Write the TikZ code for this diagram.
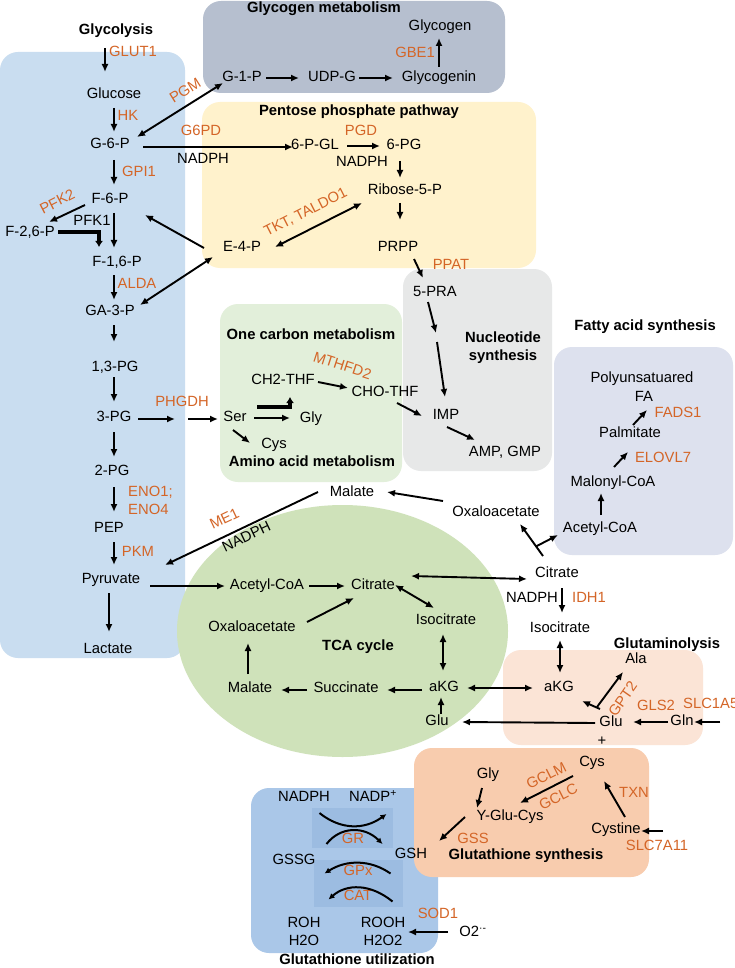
\documentclass[tikz,border=0pt]{standalone}
\usepackage{fontspec}
\setmainfont{Liberation Sans}
\usetikzlibrary{arrows.meta,calc}
\definecolor{enzc}{RGB}{212,101,39}
\definecolor{glycc}{RGB}{201,221,240}
\definecolor{glygc}{RGB}{182,191,207}
\definecolor{pppc}{RGB}{255,242,204}
\definecolor{onecc}{RGB}{226,239,218}
\definecolor{nucc}{RGB}{231,232,232}
\definecolor{fac}{RGB}{221,225,238}
\definecolor{tcac}{RGB}{207,226,186}
\definecolor{glutc}{RGB}{251,228,214}
\definecolor{gssc}{RGB}{248,204,174}
\definecolor{gsuc}{RGB}{170,199,232}
\definecolor{innc}{RGB}{156,188,225}
\newcommand\fs{\fontsize{14.8}{18}\selectfont}
\begin{document}
\begin{tikzpicture}[x=1pt,y=-1pt,
 met/.style={font=\fs, inner sep=1pt, text height=10pt, text depth=3pt},
 enz/.style={met, text=enzc},
 ttl/.style={font=\fs\bfseries, inner sep=1pt, text height=10pt, text depth=3pt},
 ml/.style={font=\fs, inner sep=1pt, align=center},
 arr/.style={-{Latex[length=8pt,width=7pt]}, line width=1.9pt},
 darr/.style={{Latex[length=8pt,width=7pt]}-{Latex[length=8pt,width=7pt]}, line width=1.9pt},
 thk/.style={-{Latex[length=6pt,width=8pt]}, line width=3.5pt},
 cur/.style={-{Latex[length=6pt,width=6pt]}, line width=2pt},
 reg/.style={rounded corners=18pt}]
\useasboundingbox (0,0) rectangle (735,968);
\fill[white] (0,0) rectangle (735,968);
% regions
\fill[glycc, reg] (0,52) rectangle (185,658);
\fill[glygc, reg] (203,1) rectangle (505,93);
\fill[pppc, reg] (202,102) rectangle (536,268);
\fill[onecc, reg] (220,304) rectangle (402,482);
\fill[nucc, reg] (403,269) rectangle (552,471);
\fill[fac, reg] (554,347) rectangle (733,555);
\fill[tcac] (342.5,631) ellipse [x radius=165.5pt, y radius=126pt];
\fill[glutc, reg] (503,650) rectangle (703,745);
\fill[gsuc, reg] (251,788) rectangle (438,953);
\fill[gssc, reg] (414,748) rectangle (649,877);
\node[fill=innc, minimum width=81pt, minimum height=40pt, inner sep=0pt] (grbox) at (352.5,828) {};
\node[fill=innc, minimum width=89pt, minimum height=47pt, inner sep=0pt] (gpxbox) at (358.5,883.5) {};
% titles
\node[ttl] (tglyc) at (116,31) {Glycolysis};
\node[ttl] (tglyg) at (324,9) {Glycogen metabolism};
\node[ttl] (tppp) at (359,112) {Pentose phosphate pathway};
\node[ttl] (tonec) at (311,336) {One carbon metabolism};
\node[ttl] (tamino) at (312,463) {Amino acid metabolism};
\node[ttl] (tnuca) at (503,339) {Nucleotide};
\node[ttl] (tnucb) at (503,357) {synthesis};
\node[ttl] (tfa) at (645,327) {Fatty acid synthesis};
\node[ttl] (ttca) at (358,647) {TCA cycle};
\node[ttl] (tglut) at (667,645) {Glutaminolysis};
\node[ttl] (tgss) at (526,856) {Glutathione synthesis};
\node[ttl] (tgsu) at (357,961) {Glutathione utilization};
% glycolysis metabolites
\node[met] (gluc) at (114,95) {Glucose};
\node[met] (g6p) at (110,145) {G-6-P};
\node[met] (f6p) at (110,200) {F-6-P};
\node[met] (f26p) at (30,233) {F-2,6-P};
\node[met] (pfka) at (92,222) {PFK1};
\node[met] (f16p) at (117,263) {F-1,6-P};
\node[met] (ga3p) at (110,312) {GA-3-P};
\node[met] (pg13) at (115,368) {1,3-PG};
\node[met] (pg3) at (114,418) {3-PG};
\node[met] (pg2) at (112,472) {2-PG};
\node[met] (pep) at (109,529) {PEP};
\node[met] (pyr) at (111,580) {Pyruvate};
\node[met] (lac) at (108,650) {Lactate};
% glycogen
\node[met] (g1p) at (242,78) {G-1-P};
\node[met] (udpg) at (332,78) {UDP-G};
\node[met] (glycogenin) at (439,78) {Glycogenin};
\node[met] (glycogen) at (440,27) {Glycogen};
% PPP
\node[met] (pgl) at (315,146) {6-P-GL};
\node[met] (pg6) at (404,146) {6-PG};
\node[met] (nadphb) at (362,163) {NADPH};
\node[met] (nadpha) at (203,160) {NADPH};
\node[met] (r5p) at (405,191) {Ribose-5-P};
\node[met] (prpp) at (398,248) {PRPP};
\node[met] (e4p) at (242,248) {E-4-P};
% nucleotide
\node[met] (pra) at (435,293) {5-PRA};
\node[met] (imp) at (446,416) {IMP};
\node[met] (amp) at (505,453) {AMP, GMP};
% one carbon
\node[met] (ch2) at (283,381) {CH2-THF};
\node[met] (cho) at (385,393) {CHO-THF};
\node[met] (ser) at (235,418) {Ser};
\node[met] (gly) at (311,419) {Gly};
\node[met] (cys) at (274,445) {Cys};
% fatty acid
\node[met] (acoaf) at (600,529) {Acetyl-CoA};
\node[met] (malcoa) at (613,483) {Malonyl-CoA};
\node[met] (palm) at (630,434) {Palmitate};
\node[met] (pufa) at (642,379) {Polyunsatuared};
\node[met] (fa) at (644,398) {FA};
% middle
\node[met] (malt) at (352,493) {Malate};
\node[met] (oaat) at (496,513) {Oxaloacetate};
\node[met] (citr) at (557,574) {Citrate};
\node[met] (nadphc) at (532,599) {NADPH};
\node[met] (isocitr) at (560,629) {Isocitrate};
\node[met] (akgr) at (559,688) {aKG};
\node[met] (ala) at (636,660) {Ala};
\node[met] (glur) at (611,723) {Glu};
\node[met] (gln) at (682,722) {Gln};
\node[met] (plus) at (602,742) {+};
% TCA
\node[met] (acoa) at (267,586) {Acetyl-CoA};
\node[met] (cit) at (373,586) {Citrate};
\node[met] (isocit) at (446,621) {Isocitrate};
\node[met] (oaa) at (252,628) {Oxaloacetate};
\node[met] (akg) at (444,688) {aKG};
\node[met] (succ) at (346,689) {Succinate};
\node[met] (mal) at (250,689) {Malate};
\node[met] (glu) at (437,722) {Glu};
% glutathione synthesis
\node[met] (cyss) at (592,763) {Cys};
\node[met] (glys) at (488,775) {Gly};
\node[met] (ygc) at (510,817) {Y-Glu-Cys};
\node[met] (gsh) at (411,855) {GSH};
\node[met] (cystine) at (616,830) {Cystine};
% glutathione utilization
\node[met] (nadphd) at (304,798) {NADPH};
\node[met] (nadp) at (373,798) {NADP\textsuperscript{+}};
\node[met] (gssg) at (294,861) {GSSG};
\node[ml] (roh) at (304,931) {ROH\\H2O};
\node[ml] (rooh) at (383,931) {ROOH\\H2O2};
\node[met] (o2) at (473,933) {O2\textsuperscript{·-}};
% enzymes
\node[enz] (eglut) at (133,53) {GLUT1};
\node[enz] (ehk) at (128,117) {HK};
\node[enz] (egpi) at (139,173) {GPI1};
\node[enz, rotate=27] (epfk) at (58,203) {PFK2};
\node[enz] (ealda) at (137,285) {ALDA};
\node[enz, rotate=32] (epgm) at (186,92) {PGM};
\node[enz] (eg6pd) at (201,132) {G6PD};
\node[enz] (epgd) at (361,132) {PGD};
\node[enz] (egbe) at (415,54) {GBE1};
\node[enz, rotate=27] (etkt) at (306,213) {TKT, TALDO1};
\node[enz] (eppat) at (451,266) {PPAT};
\node[enz, rotate=-18] (emth) at (342,367) {MTHFD2};
\node[enz] (ephg) at (182,403) {PHGDH};
\node[ml, text=enzc, align=left, anchor=west] (eeno) at (127,500) {ENO1;\\ENO4};
\node[enz] (epkm) at (138,553) {PKM};
\node[enz, rotate=25.5] (eme) at (225,520) {ME1};
\node[met, rotate=25.5] (nadphme) at (247,538) {NADPH};
\node[enz] (eelo) at (663,459) {ELOVL7};
\node[enz] (efads) at (678,414) {FADS1};
\node[enz] (eidh) at (589,599) {IDH1};
\node[enz, rotate=55] (egpt) at (624,700) {GPT2};
\node[enz] (egls) at (656,707) {GLS2};
\node[enz, anchor=west] (eslc) at (682,705) {SLC1A5};
\node[enz, rotate=27] (egclm) at (547,777) {GCLM};
\node[enz, rotate=27] (egclc) at (559,798) {GCLC};
\node[enz] (etxn) at (634,794) {TXN};
\node[enz] (egss) at (473,840) {GSS};
\node[enz] (eslc7) at (657,847) {SLC7A11};
\node[enz] (egr) at (353,840) {GR};
\node[enz] (egpx) at (358,872) {GPx};
\node[enz] (ecat) at (358,897) {CAT};
\node[enz] (esod) at (438,915) {SOD1};
% connectors: glycolysis
\coordinate (glutin) at (105,48);
\draw[arr] (glutin) -- ([shift={(-9,-23)}]gluc.center);
\draw[arr] ([shift={(0,13)}]gluc.center) -- ([shift={(4,-13)}]g6p.center);
\draw[arr] ([shift={(4,15)}]g6p.center) -- ([shift={(4,-15)}]f6p.center);
\draw[arr] ([shift={(-25,5)}]f6p.center) -- ([shift={(19,-11)}]f26p.center);
\draw[thk] ([shift={(28,-1)}]f26p.center) -| ([shift={(-18,-16)}]f16p.center);
\draw[arr] ([shift={(4,13)}]f6p.center) -- ([shift={(-3,-15)}]f16p.center);
\draw[arr] ([shift={(-3,12)}]f16p.center) -- ([shift={(4,-12)}]ga3p.center);
\draw[arr] ([shift={(-38,0)}]e4p.center) -- ([shift={(35,15)}]f6p.center);
\draw[darr] ([shift={(-29,9)}]e4p.center) -- ([shift={(30,-7)}]ga3p.center);
\draw[darr] ([shift={(27,-8)}]g6p.center) -- ([shift={(-19,5)}]g1p.center);
\draw[arr] ([shift={(33,2)}]g6p.center) -- ([shift={(-22,1)}]pgl.center);
\draw[arr] ([shift={(4,13)}]ga3p.center) -- ([shift={(-1,-26)}]pg13.center);
\draw[arr] ([shift={(-1,9)}]pg13.center) -- ([shift={(0,-16)}]pg3.center);
\draw[arr] ([shift={(0,14)}]pg3.center) -- ([shift={(2,-15)}]pg2.center);
\draw[arr] ([shift={(2,15)}]pg2.center) -- ([shift={(5,-17)}]pep.center);
\draw[arr] ([shift={(5,13)}]pep.center) -- ([shift={(3,-15)}]pyr.center);
\draw[arr] ([shift={(-2,13)}]pyr.center) -- ([shift={(1,-18)}]lac.center);
\draw[arr] ([shift={(39,6)}]pyr.center) -- ([shift={(-42,0)}]acoa.center);
% glycogen
\draw[arr] ([shift={(24,0)}]g1p.center) -- ([shift={(-33,0)}]udpg.center);
\draw[arr] ([shift={(27,0)}]udpg.center) -- ([shift={(-46,0)}]glycogenin.center);
\draw[arr] ([shift={(0,-11)}]glycogenin.center) -- ([shift={(-1,11)}]glycogen.center);
% PPP
\draw[arr] ([shift={(32,0)}]pgl.center) -- ([shift={(-24,0)}]pg6.center);
\draw[arr] ([shift={(-4,15)}]pg6.center) -- ([shift={(-5,-13)}]r5p.center);
\draw[arr] ([shift={(-5,12)}]r5p.center) -- ([shift={(2,-28)}]prpp.center);
\draw[darr] ([shift={(33,-1)}]e4p.center) -- ([shift={(-43,12)}]r5p.center);
\draw[arr] ([shift={(16,11)}]prpp.center) -- ([shift={(-12,-15)}]pra.center);
% nucleotide
\coordinate (gapa) at (436,333);
\coordinate (gapb) at (437,342);
\draw[arr] ([shift={(-7,9)}]pra.center) -- (gapa);
\draw[arr] (gapb) -- ([shift={(-1,-19)}]imp.center);
\draw[arr] ([shift={(35,1)}]ch2.center) -- ([shift={(-37,-5)}]cho.center);
\draw[arr] ([shift={(12,10)}]cho.center) -- ([shift={(-24,0)}]imp.center);
\draw[arr] ([shift={(1,11)}]imp.center) -- ([shift={(-30,-13)}]amp.center);
% serine
\coordinate (phga) at (175,419);
\coordinate (phgb) at (188,419);
\draw[arr] ([shift={(24,1)}]pg3.center) -- (phga);
\draw[arr] (phgb) -- ([shift={(-17,1)}]ser.center);
\draw[arr] ([shift={(19,0)}]ser.center) -- ([shift={(-21,-1)}]gly.center);
\draw[thk] ([shift={(22,-11)}]ser.center) -| ([shift={(7,16)}]ch2.center);
\draw[arr] ([shift={(-2,12)}]ser.center) -- ([shift={(-24,-2)}]cys.center);
% malate / citrate shuttle
\draw[arr] ([shift={(-34,-1)}]malt.center) -- ([shift={(54,-15)}]pyr.center);
\draw[arr] ([shift={(-53,-12)}]oaat.center) -- ([shift={(35,-1)}]malt.center);
\draw[arr] ([shift={(-14,-18)}]citr.center) -- coordinate[pos=0.3] (brc) ([shift={(24,11)}]oaat.center);
\draw[arr] (brc) -- ([shift={(-42,6)}]acoaf.center);
% fatty acid
\draw[arr] ([shift={(1,-14)}]acoaf.center) -- ([shift={(-12,10)}]malcoa.center);
\draw[arr] ([shift={(1,-16)}]malcoa.center) -- ([shift={(-2,18)}]palm.center);
\draw[arr] ([shift={(3,-9)}]palm.center) -- ([shift={(3,12)}]fa.center);
% TCA
\draw[arr] ([shift={(42,0)}]acoa.center) -- ([shift={(-28,0)}]cit.center);
\draw[darr] ([shift={(38,-10)}]cit.center) -- ([shift={(-30,5)}]citr.center);
\draw[darr] ([shift={(22,-1)}]cit.center) -- ([shift={(-12,-13)}]isocit.center);
\draw[arr] ([shift={(55,-6)}]oaa.center) -- ([shift={(-19,12)}]cit.center);
\draw[darr] ([shift={(-3,13)}]isocit.center) -- ([shift={(-1,-17)}]akg.center);
\draw[arr] ([shift={(-22,2)}]akg.center) -- ([shift={(41,1)}]succ.center);
\draw[arr] ([shift={(-39,1)}]succ.center) -- ([shift={(31,1)}]mal.center);
\draw[arr] ([shift={(-2,-15)}]mal.center) -- ([shift={(-4,15)}]oaa.center);
\draw[arr] ([shift={(4,-8)}]glu.center) -- ([shift={(-3,9)}]akg.center);
\draw[darr] ([shift={(23,0)}]akg.center) -- ([shift={(-26,0)}]akgr.center);
\draw[arr] ([shift={(-16,0)}]glur.center) -- ([shift={(25,0)}]glu.center);
% right side
\draw[arr] ([shift={(5,14)}]citr.center) -- ([shift={(2,-16)}]isocitr.center);
\draw[darr] ([shift={(0,11)}]isocitr.center) -- ([shift={(1,-15)}]akgr.center);
\draw[arr] ([shift={(-14,-16)}]glur.center) -- ([shift={(-13,12)}]ala.center);
\draw[arr] ([shift={(-11,-14)}]glur.center) -- ([shift={(23,13)}]akgr.center);
\draw[arr] ([shift={(-14,0)}]gln.center) -- ([shift={(22,-1)}]glur.center);
\coordinate (glnin) at (720,722);
\draw[arr] (glnin) -- ([shift={(12,0)}]gln.center);
% glutathione synthesis
\draw[arr] ([shift={(-19,13)}]cyss.center) -- ([shift={(10,-14)}]ygc.center);
\draw[arr] ([shift={(-6,13)}]glys.center) -- ([shift={(-33,-9)}]ygc.center);
\draw[arr] ([shift={(-45,0)}]ygc.center) -- ([shift={(28,-14)}]gsh.center);
\draw[arr] ([shift={(9,-13)}]cystine.center) -- ([shift={(12,18)}]cyss.center);
\coordinate (cysin) at (663,831);
\draw[arr] (cysin) -- ([shift={(25,1)}]cystine.center);
% glutathione utilization
\draw[arr] ([shift={(-25,-1)}]o2.center) -- ([shift={(25,1)}]rooh.center);
\draw[cur] ([shift={(-33,-15)}]grbox.center) .. controls ([shift={(-12,2)}]grbox.center) and ([shift={(12,2)}]grbox.center) .. ([shift={(34,-14)}]grbox.center);
\draw[cur] ([shift={(-26,16)}]grbox.center) .. controls ([shift={(-12,-2)}]grbox.center) and ([shift={(12,-2)}]grbox.center) .. ([shift={(30,16)}]grbox.center);
\draw[cur] ([shift={(32,-10)}]gpxbox.center) .. controls ([shift={(12,-24)}]gpxbox.center) and ([shift={(-12,-24)}]gpxbox.center) .. ([shift={(-34,-10)}]gpxbox.center);
\draw[cur] ([shift={(34,18)}]gpxbox.center) .. controls ([shift={(12,0)}]gpxbox.center) and ([shift={(-12,0)}]gpxbox.center) .. ([shift={(-30,16)}]gpxbox.center);
\end{tikzpicture}
\end{document}
